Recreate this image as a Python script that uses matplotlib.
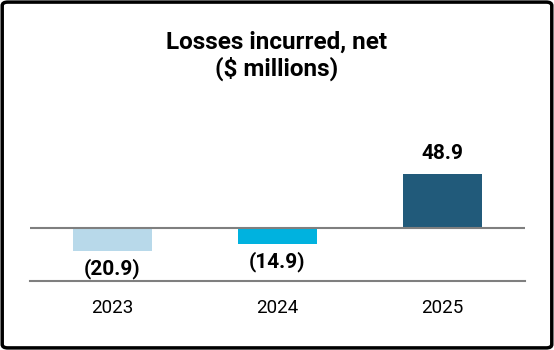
import matplotlib.pyplot as plt
from matplotlib.patches import FancyBboxPatch

years = ['2023', '2024', '2025']
losses = [-20.9, -14.9, 48.9]
labels = ['(20.9)', '(14.9)', '48.9']
colors = ['#b8d9ea', '#00b2df', '#215a7a']

plt.rcParams['font.family'] = ['Roboto', 'DejaVu Sans']

fig = plt.figure(figsize=(5.54, 3.5), dpi=100)
ax = fig.add_axes([30 / 554, (350 - 281) / 350, 495 / 554, 120 / 350])

x = range(len(years))
ax.bar(x, losses, width=0.48, color=colors, zorder=2)
ax.axhline(0, color='#7f7f7f', lw=1.5, zorder=3)
ax.set_xlim(-0.5, 2.5)
ax.set_ylim(-48, 60.7)

for i, v in enumerate(losses):
    if v < 0:
        ax.annotate(labels[i], (i, v), xytext=(0, -5), textcoords='offset points',
                    ha='center', va='top', fontsize=15, fontweight='bold')
    else:
        ax.annotate(labels[i], (i, v), xytext=(0, 8), textcoords='offset points',
                    ha='center', va='bottom', fontsize=15, fontweight='bold')

ax.set_xticks(list(x))
ax.set_xticklabels(years, fontsize=13.5)
ax.tick_params(axis='x', length=0, pad=13)
ax.set_yticks([])
for s in ['top', 'left', 'right']:
    ax.spines[s].set_visible(False)
ax.spines['bottom'].set_color('#7f7f7f')
ax.spines['bottom'].set_linewidth(1.5)

fig.text(0.5, 1 - 42 / 350, 'Losses incurred, net', ha='center', va='center',
         fontsize=17.5, fontweight='bold')
fig.text(0.5, 1 - 69 / 350, '($ millions)', ha='center', va='center',
         fontsize=17.5, fontweight='bold')

border = FancyBboxPatch((0.004, 0.006), 0.992, 0.988, boxstyle='round,pad=0,rounding_size=0.01',
                        transform=fig.transFigure, fill=False, ec='black', lw=2.5)
fig.patches.append(border)

fig.savefig('out.png', dpi=100)
